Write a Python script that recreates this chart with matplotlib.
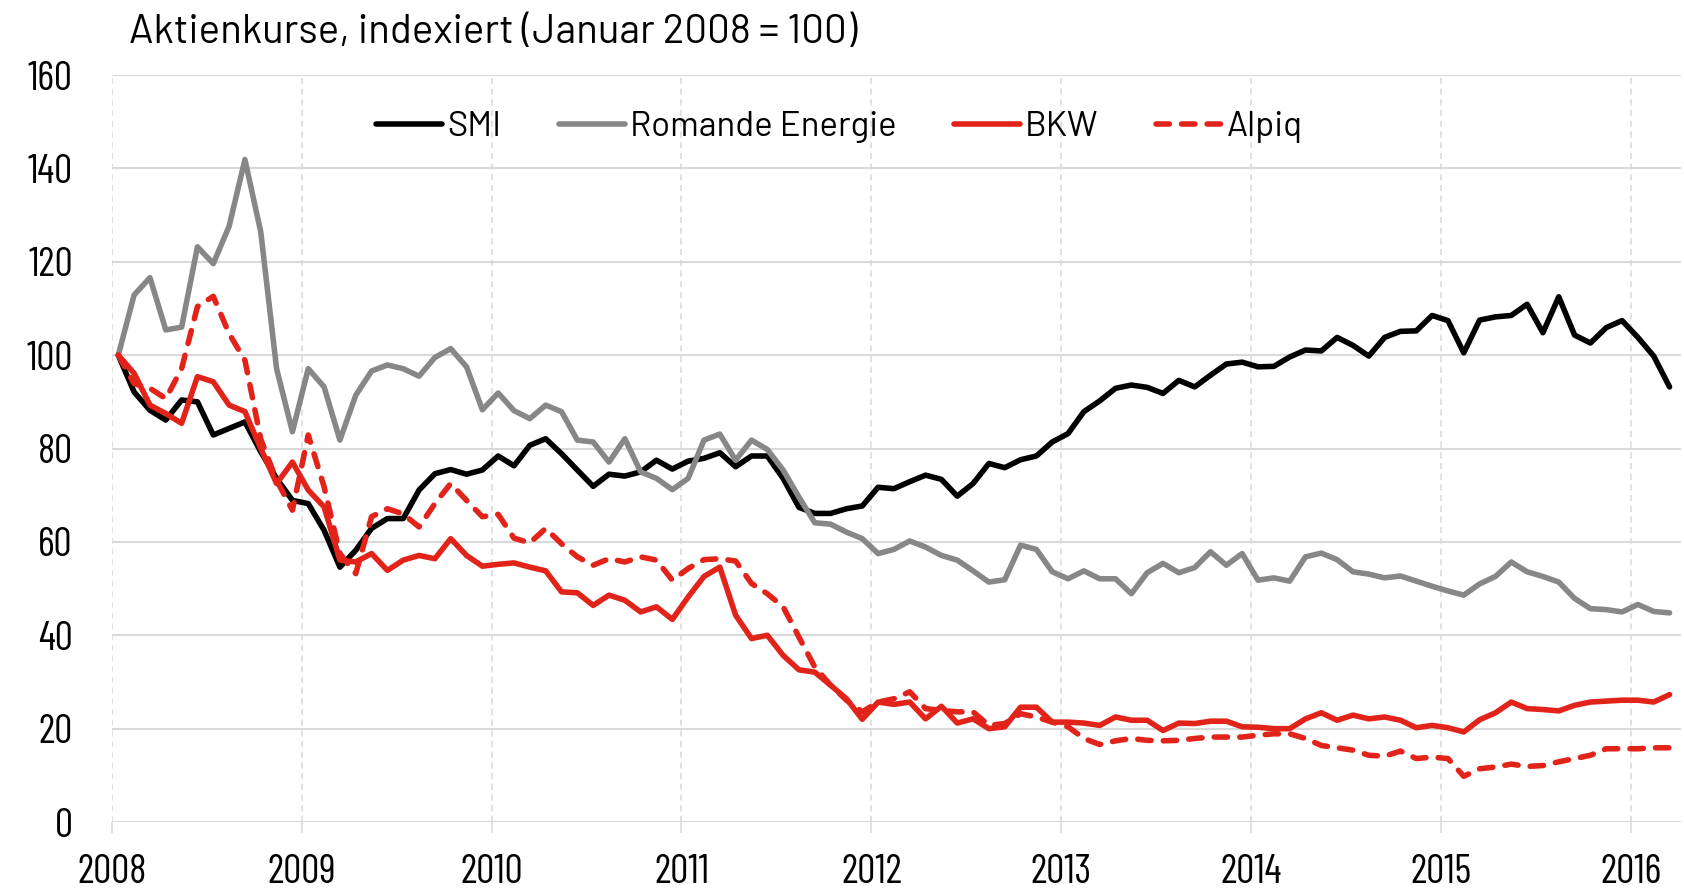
import numpy as np
import matplotlib
matplotlib.use("Agg")
from matplotlib import pyplot as plt

# monthly values, Jan 2008 .. Mar 2016 (Jan 2008 = 100)
smi = [100, 92.1, 88.2, 86.1, 90.4, 90, 82.9, 84.3, 85.7, 79.3, 73.6, 68.9,
       68.2, 62.5, 54.6, 58.2, 62.9, 65, 65, 71.1, 74.6, 75.5, 74.5, 75.4,
       78.4, 76.3, 80.7, 82.1, 78.9, 75.4, 71.9, 74.5, 74.1, 75, 77.5, 75.6,
       77.3, 77.9, 79.1, 76.1, 78.4, 78.4, 73.6, 67.4, 66.1, 66.1, 67.1, 67.7,
       71.7, 71.4, 72.9, 74.3, 73.4, 69.8, 72.5, 76.8, 75.9, 77.6, 78.4, 81.4,
       83.2, 87.9, 90.2, 92.9, 93.6, 93.1, 91.8, 94.6, 93.2, 95.7, 98.1, 98.5,
       97.5, 97.6, 99.6, 101.1, 100.9, 103.8, 102.1, 99.8, 103.8, 105.1, 105.2, 108.5,
       107.4, 100.5, 107.5, 108.2, 108.5, 110.9, 104.8, 112.5, 104.3, 102.6, 105.9, 107.4,
       103.8, 99.8, 93.2]
romande = [100, 112.9, 116.6, 105.4, 106, 123.2, 119.6, 127.6, 141.9, 126.4, 97.1, 83.6,
           97.1, 93.2, 81.8, 91.4, 96.6, 97.9, 97.1, 95.5, 99.5, 101.4, 97.5, 88.3,
           91.9, 88.1, 86.4, 89.3, 87.9, 81.8, 81.4, 77.1, 82.1, 75, 73.6, 71.2,
           73.6, 81.8, 83.1, 77.5, 81.8, 79.8, 75.4, 69.6, 64.1, 63.8, 62.1, 60.7,
           57.5, 58.4, 60.2, 58.9, 57.1, 56.1, 53.8, 51.4, 51.9, 59.3, 58.4, 53.6,
           52.1, 53.8, 52.1, 52.1, 48.9, 53.4, 55.4, 53.4, 54.5, 57.9, 55, 57.5,
           51.8, 52.3, 51.6, 56.8, 57.6, 56.2, 53.6, 53.1, 52.3, 52.7, 51.6, 50.5,
           49.5, 48.6, 51, 52.6, 55.7, 53.6, 52.6, 51.4, 47.9, 45.7, 45.5, 45,
           46.6, 45.1, 44.8]
bkw = [100, 96.1, 89.3, 87.5, 85.4, 95.4, 94.3, 89.3, 87.9, 80, 72.5, 77.1,
       71.1, 67.5, 56.1, 55.7, 57.5, 53.9, 56.1, 57.1, 56.4, 60.7, 57.1, 54.8,
       55.2, 55.5, 54.6, 53.8, 49.3, 49.1, 46.4, 48.6, 47.5, 45, 46.1, 43.4,
       48.2, 52.6, 54.6, 44.3, 39.3, 40, 35.7, 32.6, 32.1, 29.3, 26.4, 22,
       25.7, 25.2, 25.7, 22.1, 24.8, 21.2, 22.1, 20, 20.4, 24.6, 24.6, 21.4,
       21.4, 21.2, 20.7, 22.5, 21.8, 21.8, 19.6, 21.2, 21.1, 21.6, 21.6, 20.4,
       20.3, 20, 20, 22.1, 23.4, 21.8, 22.9, 22.1, 22.5, 21.8, 20.2, 20.7,
       20.2, 19.3, 21.9, 23.4, 25.7, 24.3, 24.1, 23.8, 25, 25.7, 25.9, 26.1,
       26.1, 25.7, 27.3]
alpiq = [100, 93.9, 92.9, 90.7, 97.1, 110.4, 112.6, 104.6, 98.9, 82, 73.2, 66.8,
         82.9, 71.8, 57.5, 53.2, 65.4, 67.1, 66, 63.2, 68.2, 72.5, 68.9, 65.4,
         65.9, 60.8, 59.8, 62.9, 59.6, 56.8, 55, 56.4, 55.7, 56.8, 56.1, 51.8,
         54.3, 56.2, 56.4, 55.9, 51.1, 48.9, 46.1, 39.6, 33.2, 29.3, 26.1, 23.6,
         25.7, 26.4, 27.9, 24.3, 23.9, 23.6, 23.6, 20.7, 21.1, 23.2, 22.5, 21.4,
         20.4, 17.9, 16.6, 17.4, 17.9, 17.5, 17.4, 17.5, 17.9, 18.2, 18.2, 18.2,
         18.6, 18.9, 18.9, 17.9, 16.4, 15.9, 15.4, 14.3, 14.1, 15.2, 13.6, 13.9,
         13.6, 9.8, 11.4, 11.8, 12.4, 11.9, 12.1, 12.9, 13.6, 14.3, 15.7, 15.7,
         15.7, 15.9, 15.9]
years = list(range(2008, 2017))

plt.rcParams['font.family'] = ['Barlow Condensed', 'DejaVu Sans']
wide = ['Barlow', 'DejaVu Sans']   # looser face for title / legend words

# mid-month positions in decimal years
x = 2008 + (np.arange(len(smi)) + 0.42) / 12

fig = plt.figure(figsize=(16.84, 8.91), dpi=100)
ax = fig.add_axes([0.0663, 0.0774, 0.9317, 0.8384])

grid_c = '#d9d9d9'
red = '#e2231a'
style = dict(lw=4.0, solid_capstyle='round', solid_joinstyle='round')
ax.plot(x, smi, color='black', label='SMI', **style)
ax.plot(x, romande, color='#878787', label='Romande Energie', **style)
ax.plot(x, bkw, color=red, label='BKW', **style)
ax.plot(x, alpiq, color=red, lw=4.0, ls=(0, (2.4, 2.2)), dash_capstyle='round',
        label='Alpiq')

ax.set_xlim(2008, 2016.26)
ax.set_ylim(0, 160)
ax.set_yticks(range(0, 161, 20))
ax.set_xticks(years)
ax.set_xticklabels([str(y) for y in years])

for s in ax.spines.values():
    s.set_visible(False)
ax.grid(axis='y', color=grid_c, lw=1.5, zorder=0)
ax.grid(axis='x', color=grid_c, lw=1.1, ls=(0, (4, 3)), zorder=0)
ax.set_axisbelow(True)

ax.tick_params(axis='y', length=0, pad=28, labelsize=29)
ax.tick_params(axis='x', length=8, width=1.1, color=grid_c, pad=15, labelsize=29)

ax.legend(loc='center', bbox_to_anchor=(0.464, 0.93), ncol=4, frameon=False,
          prop={'family': wide, 'size': 25}, handlelength=1.9,
          handletextpad=0.15, columnspacing=1.65)

fig.text(0.0766, 0.964, 'Aktienkurse, indexiert (Januar 2008 = 100)',
         fontsize=29, family=wide, ha='left', va='center')

fig.savefig('out.png', dpi=100)
